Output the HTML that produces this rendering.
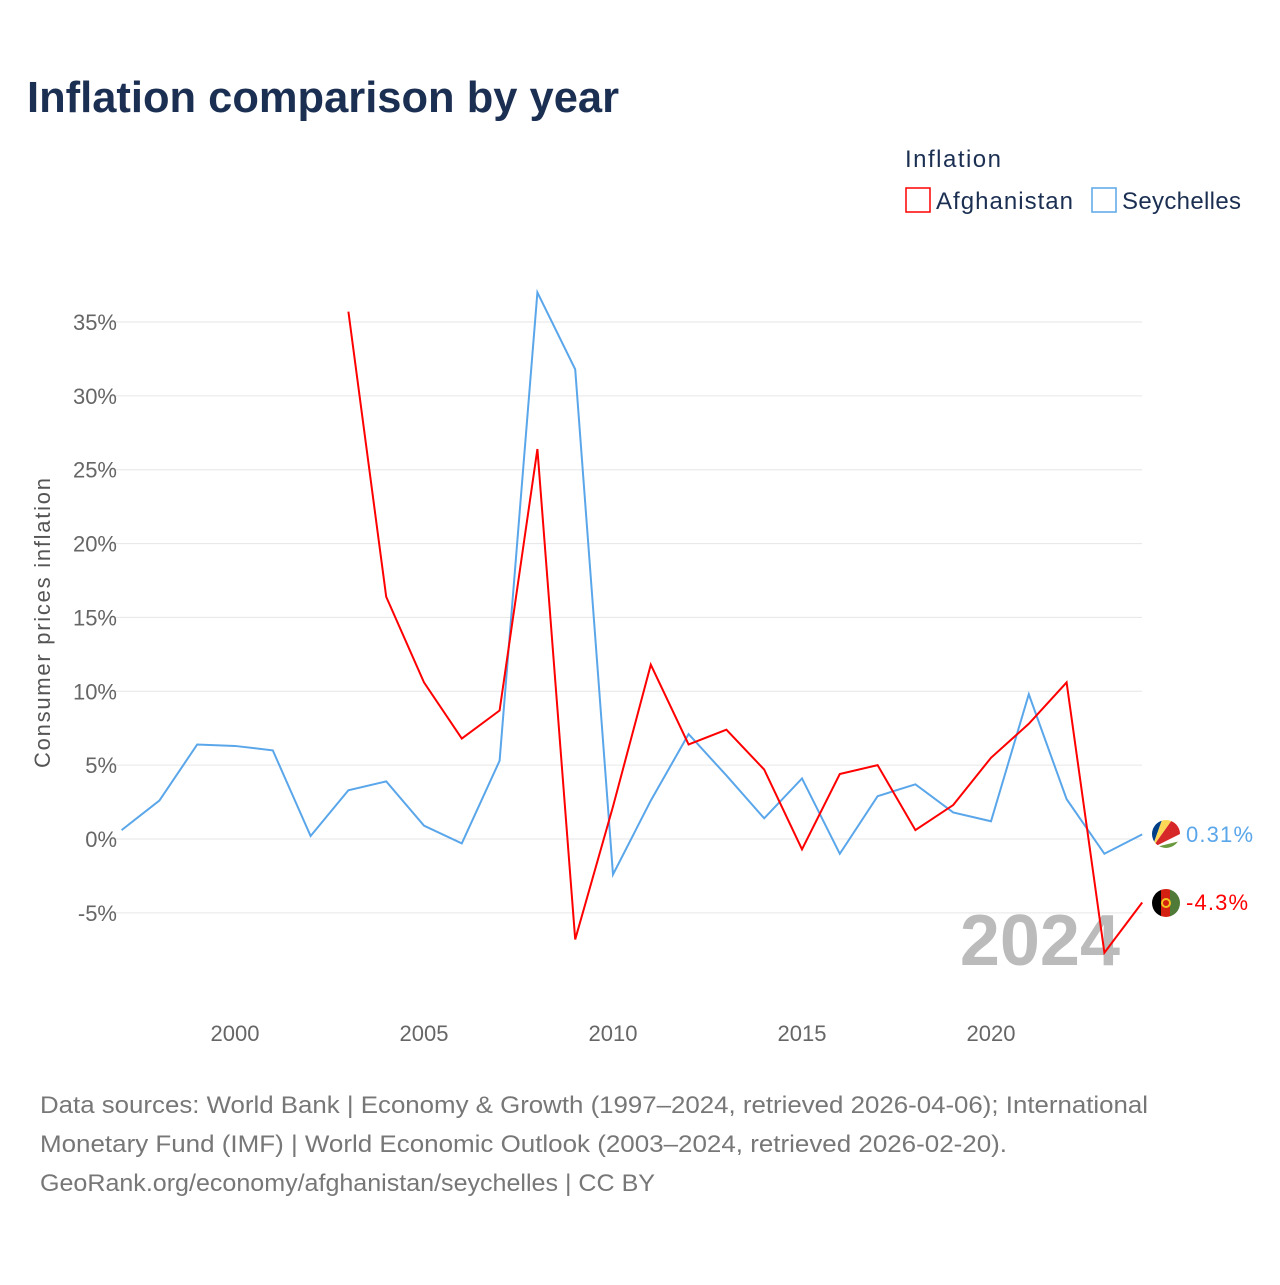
<!DOCTYPE html>
<html><head><meta charset="utf-8"><style>
body{margin:0;background:#fff;font-family:"Liberation Sans",sans-serif;}
svg text{font-family:"Liberation Sans",sans-serif;}
</style></head><body>
<svg width="1280" height="1280">
<text x="27" y="112" font-size="44" font-weight="bold" fill="#1b2f52" textLength="592" lengthAdjust="spacingAndGlyphs">Inflation comparison by year</text>
<text x="905" y="167" font-size="24" fill="#1b2f52" textLength="96">Inflation</text>
<g><rect x="906" y="188" width="24" height="24" fill="none" stroke="#f00" stroke-width="1.5"/><text x="936" y="209" font-size="24" fill="#1b2f52" textLength="137">Afghanistan</text></g>
<g><rect x="1092" y="188" width="24" height="24" fill="none" stroke="#5aa6ea" stroke-width="1.5"/><text x="1122" y="209" font-size="24" fill="#1b2f52" textLength="119">Seychelles</text></g>
<g id="grid"></g><g id="yt"></g><g id="xt"></g>
<text transform="translate(50,623) rotate(-90)" text-anchor="middle" font-size="22" fill="#555" textLength="290">Consumer prices inflation</text>
<text x="1120" y="965" text-anchor="end" font-size="72" font-weight="bold" fill="#bbb">2024</text>
<g id="lines"></g>
<g><clipPath id="c1"><circle cx="1166" cy="834" r="14"/></clipPath><g clip-path="url(#c1)"><rect x="1152" y="820" width="28" height="28" fill="#fff"/><polygon points="1152,848 1152,820 1162,820" fill="#003f87"/><polygon points="1152,848 1162,820 1172,820" fill="#fcd856"/><polygon points="1152,848 1172,820 1180,820 1180,834" fill="#d62828"/><polygon points="1152,848 1180,841 1180,848" fill="#6a9a3d"/></g></g>
<text x="1186" y="842" font-size="22" fill="#5aa6ea" textLength="67">0.31%</text>
<g><clipPath id="c2"><circle cx="1166" cy="903" r="14"/></clipPath><g clip-path="url(#c2)"><rect x="1152" y="889" width="10" height="28" fill="#000"/><rect x="1161" y="889" width="10" height="28" fill="#d32011"/><rect x="1170" y="889" width="10" height="28" fill="#4f7a38"/><circle cx="1166" cy="903" r="4" fill="none" stroke="#f3c21f" stroke-width="2"/></g></g>
<text x="1186" y="910" font-size="22" fill="#f00" textLength="62">-4.3%</text>
<text x="40" y="1113" font-size="24" fill="#777" textLength="1108" lengthAdjust="spacingAndGlyphs">Data sources: World Bank | Economy &amp; Growth (1997–2024, retrieved 2026-04-06); International</text>
<text x="40" y="1152" font-size="24" fill="#777" textLength="967" lengthAdjust="spacingAndGlyphs">Monetary Fund (IMF) | World Economic Outlook (2003–2024, retrieved 2026-02-20).</text>
<text x="40" y="1191" font-size="24" fill="#777" textLength="615" lengthAdjust="spacingAndGlyphs">GeoRank.org/economy/afghanistan/seychelles | CC BY</text>
</svg>
<script>
const syYears=[1997,1998,1999,2000,2001,2002,2003,2004,2005,2006,2007,2008,2009,2010,2011,2012,2013,2014,2015,2016,2017,2018,2019,2020,2021,2022,2023,2024];
const syValues=[0.6,2.6,6.4,6.3,6.0,0.2,3.3,3.9,0.9,-0.3,5.3,37.0,31.8,-2.4,2.6,7.1,4.3,1.4,4.1,-1.0,2.9,3.7,1.8,1.2,9.8,2.7,-1.0,0.31];
const afYears=[2003,2004,2005,2006,2007,2008,2009,2010,2011,2012,2013,2014,2015,2016,2017,2018,2019,2020,2021,2022,2023,2024];
const afValues=[35.7,16.4,10.6,6.8,8.7,26.4,-6.8,2.2,11.8,6.4,7.4,4.7,-0.7,4.4,5.0,0.6,2.3,5.5,7.8,10.6,-7.7,-4.3];
const yTicks=[-5,0,5,10,15,20,25,30,35];
const xTicks=[2000,2005,2010,2015,2020];
const NS="http://www.w3.org/2000/svg";
const X=y=>235+(y-2000)*37.8;
const Y=v=>839-v*14.771;
function mk(t,a,p){const e=document.createElementNS(NS,t);for(const k in a)e.setAttribute(k,a[k]);document.getElementById(p).appendChild(e);return e;}
yTicks.forEach(v=>{
 const l=mk('line',{x1:110,x2:1142,y1:Y(v),y2:Y(v),stroke:'#e6e6e6'},'grid');
 
 
 const t=mk('text',{x:117,y:Y(v)+8,'text-anchor':'end','font-size':22,fill:'#666'},'yt');
 t.textContent=v+'%';
 
 
});
xTicks.forEach(v=>{
 const t=mk('text',{x:X(v),y:1041,'text-anchor':'middle','font-size':22,fill:'#666'},'xt');
 t.textContent=v;
 
 
});
function line(ys,vs,c,n){
 const p=mk('polyline',{points:ys.map((y,i)=>X(y)+','+Y(vs[i])).join(' '),fill:'none',stroke:c,'stroke-width':2},'lines');
 
 
}
line(syYears,syValues,'#5aa6ea','seychelles-line');
line(afYears,afValues,'#f00','afghanistan-line');
</script>
</body></html>
